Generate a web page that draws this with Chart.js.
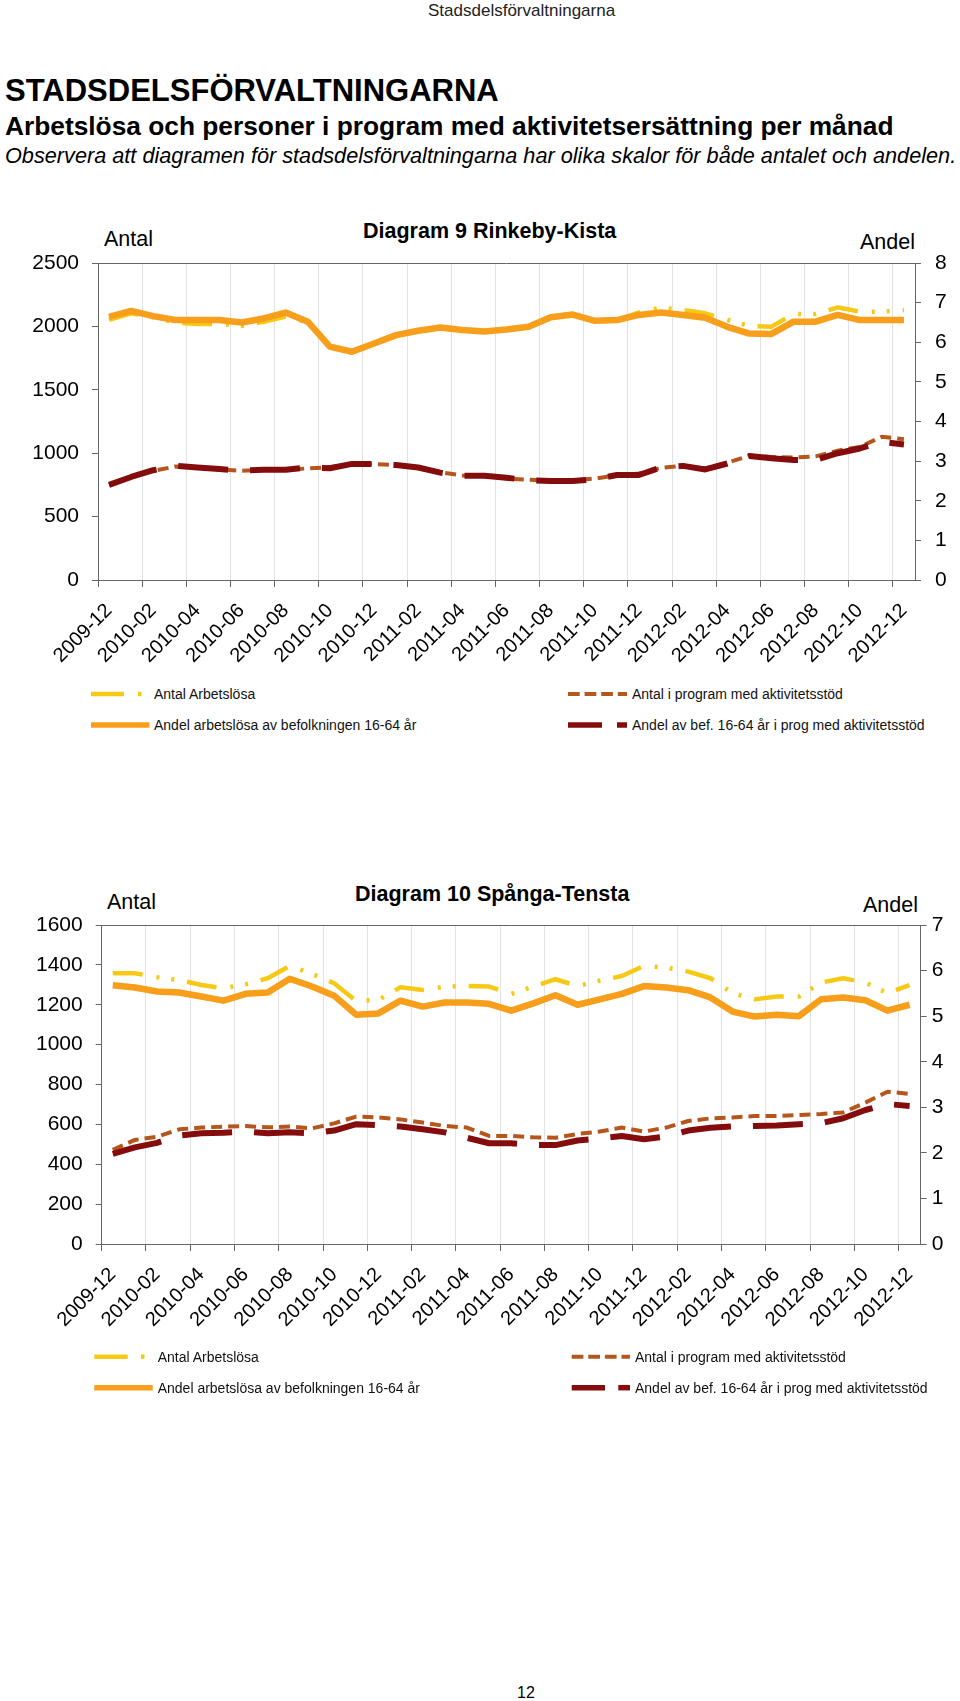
<!DOCTYPE html>
<html><head><meta charset="utf-8">
<script src="https://cdn.jsdelivr.net/npm/chart.js@4.4.1/dist/chart.umd.min.js"></script>
<style>
html,body{margin:0;padding:0;background:#fff;}
body{width:960px;height:1701px;position:relative;overflow:hidden;font-family:"Liberation Sans",Arial,Helvetica,sans-serif;color:#000;}
.t{position:absolute;white-space:nowrap;line-height:1;}
.lg{font-size:14px;color:#111;}
canvas{position:absolute;left:0;}
svg{position:absolute;left:0;}
</style></head><body>
<div class="t" style="left:428px;top:2px;font-size:17px;color:#222">Stadsdelsförvaltningarna</div>
<div class="t" style="left:5px;top:74.8px;font-size:31px;font-weight:bold">STADSDELSFÖRVALTNINGARNA</div>
<div class="t" style="left:5px;top:112.7px;font-size:26.3px;font-weight:bold">Arbetslösa och personer i program med aktivitetsersättning per månad</div>
<div class="t" style="left:5px;top:144.6px;font-size:21.7px;font-style:italic">Observera att diagramen för stadsdelsförvaltningarna har olika skalor för både antalet och andelen.</div>

<div class="t" style="left:363px;top:221px;font-size:21.5px;font-weight:bold">Diagram 9 Rinkeby-Kista</div>
<div class="t" style="left:104px;top:229px;font-size:21.5px">Antal</div>
<div class="t" style="left:860px;top:232px;font-size:21.5px">Andel</div>
<canvas id="c1" width="960" height="490" style="top:190px"></canvas>
<svg width="960" height="60" style="top:680px">
  <line x1="91" y1="14" x2="124" y2="14" stroke="#F8C914" stroke-width="4.5"/>
  <line x1="138" y1="14" x2="141.5" y2="14" stroke="#F8C914" stroke-width="4.5"/>
  <line x1="91" y1="45" x2="149.5" y2="45" stroke="#F79E1B" stroke-width="5.5"/>
  <line x1="568" y1="14" x2="627" y2="14" stroke="#B5561C" stroke-width="4" stroke-dasharray="11.7 4.9"/>
  <line x1="568" y1="45" x2="602" y2="45" stroke="#850C0C" stroke-width="5.5"/>
  <line x1="617" y1="45" x2="627" y2="45" stroke="#850C0C" stroke-width="5.5"/>
</svg>
<div class="t lg" style="left:154px;top:687px">Antal Arbetslösa</div>
<div class="t lg" style="left:154px;top:718px">Andel arbetslösa av befolkningen 16-64 år</div>
<div class="t lg" style="left:632px;top:687px">Antal i program med aktivitetsstöd</div>
<div class="t lg" style="left:632px;top:718px">Andel av bef. 16-64 år i prog med aktivitetsstöd</div>

<div class="t" style="left:355px;top:883.5px;font-size:21.5px;font-weight:bold">Diagram 10 Spånga-Tensta</div>
<div class="t" style="left:107px;top:892px;font-size:21.5px">Antal</div>
<div class="t" style="left:863px;top:894.5px;font-size:21.5px">Andel</div>
<canvas id="c2" width="960" height="490" style="top:860px"></canvas>
<svg width="960" height="60" style="top:1340px">
  <line x1="94.3" y1="16.7" x2="127.7" y2="16.7" stroke="#F8C914" stroke-width="4.5"/>
  <line x1="141" y1="16.7" x2="144.5" y2="16.7" stroke="#F8C914" stroke-width="4.5"/>
  <line x1="94.3" y1="47.7" x2="152.7" y2="47.7" stroke="#F79E1B" stroke-width="5.5"/>
  <line x1="571.7" y1="16.7" x2="630" y2="16.7" stroke="#B5561C" stroke-width="4" stroke-dasharray="11.7 4.9"/>
  <line x1="571.7" y1="47.7" x2="605" y2="47.7" stroke="#850C0C" stroke-width="5.5"/>
  <line x1="618.3" y1="47.7" x2="630" y2="47.7" stroke="#850C0C" stroke-width="5.5"/>
</svg>
<div class="t lg" style="left:157.7px;top:1350px">Antal Arbetslösa</div>
<div class="t lg" style="left:157.7px;top:1381px">Andel arbetslösa av befolkningen 16-64 år</div>
<div class="t lg" style="left:635px;top:1350px">Antal i program med aktivitetsstöd</div>
<div class="t lg" style="left:635px;top:1381px">Andel av bef. 16-64 år i prog med aktivitetsstöd</div>

<div class="t" style="left:517px;top:1684.5px;font-size:16px">12</div>

<script>
// ---- Data ----
const months = ['2009-12','2010-01','2010-02','2010-03','2010-04','2010-05','2010-06','2010-07','2010-08','2010-09','2010-10','2010-11','2010-12',
  '2011-01','2011-02','2011-03','2011-04','2011-05','2011-06','2011-07','2011-08','2011-09','2011-10','2011-11','2011-12',
  '2012-01','2012-02','2012-03','2012-04','2012-05','2012-06','2012-07','2012-08','2012-09','2012-10','2012-11','2012-12'];

// Diagram 9 Rinkeby-Kista
const rkAntalArbetslosa = [2051,2103,2072,2030,2019,2019,2003,2037,2077,2035,1840,1800,1866,1931,1966,1991,1972,1959,1975,1997,2072,2094,2044,2050,2110,2148,2129,2103,2051,2003,1998,2098,2098,2150,2116,2116,2129];
const rkAndelArbetslosa = [6.64,6.79,6.66,6.56,6.56,6.56,6.50,6.60,6.75,6.52,5.89,5.76,5.97,6.18,6.29,6.37,6.31,6.27,6.32,6.39,6.63,6.70,6.54,6.56,6.69,6.75,6.69,6.62,6.39,6.22,6.21,6.52,6.52,6.69,6.56,6.56,6.56];
const rkAntalProgram = [750,815,860,895,890,872,862,870,870,880,890,915,915,905,890,850,825,820,800,790,785,785,800,825,840,885,900,880,925,980,970,965,975,1020,1050,1130,1110];
const rkAndelProgram = [2.40,2.60,2.77,2.88,2.84,2.80,2.76,2.78,2.78,2.84,2.82,2.93,2.93,2.90,2.84,2.71,2.63,2.63,2.58,2.52,2.50,2.50,2.54,2.65,2.65,2.84,2.88,2.79,2.94,3.13,3.07,3.03,3.03,3.20,3.32,3.49,3.42];

// Diagram 10 Spånga-Tensta
const stAntalArbetslosa = [1358,1358,1338,1324,1299,1283,1303,1333,1395,1355,1308,1219,1224,1288,1274,1291,1294,1291,1254,1291,1328,1294,1321,1344,1395,1386,1366,1333,1258,1227,1241,1241,1311,1333,1311,1258,1299];
const stAndelArbetslosa = [5.68,5.63,5.54,5.52,5.43,5.34,5.49,5.52,5.82,5.65,5.45,5.03,5.06,5.34,5.21,5.30,5.30,5.27,5.12,5.28,5.46,5.25,5.37,5.49,5.66,5.63,5.57,5.41,5.10,4.99,5.03,5.00,5.37,5.41,5.35,5.12,5.25];
const stAntalProgram = [472,522,538,575,584,589,592,585,589,580,605,639,635,625,609,592,584,542,542,535,533,552,564,584,564,584,617,630,635,642,642,647,652,660,709,764,753];
const stAndelProgram = [1.98,2.12,2.22,2.38,2.43,2.44,2.47,2.43,2.45,2.43,2.49,2.63,2.61,2.58,2.52,2.45,2.33,2.21,2.21,2.17,2.17,2.27,2.32,2.37,2.30,2.36,2.49,2.55,2.58,2.59,2.60,2.63,2.65,2.76,2.94,3.07,3.03];

// ---- Styling ----
const F = "'Liberation Sans', Arial, sans-serif";
const YELLOW = '#F8C914', ORANGE = '#F79E1B', BROWN = '#B5561C', DARKRED = '#850C0C';
const AXIS = '#666666', GRID = '#e2e2e2';

const topBorder = {
  id: 'topBorder',
  beforeDatasetsDraw(chart) {
    const {ctx, chartArea: a} = chart;
    ctx.save();
    ctx.strokeStyle = AXIS; ctx.lineWidth = 1;
    ctx.beginPath(); ctx.moveTo(a.left, Math.round(a.top) + 0.5); ctx.lineTo(a.right, Math.round(a.top) + 0.5); ctx.stroke();
    ctx.restore();
  }
};

function makeChart(id, antal, andel, prog, andelProg, P) {
  return new Chart(document.getElementById(id), {
    type: 'line',
    data: {
      labels: months,
      datasets: [
        {label: 'Andel arbetslösa av befolkningen 16-64 år', data: andel, yAxisID: 'yR', borderColor: ORANGE, borderWidth: 6.5, order: 0},
        {label: 'Andel av bef. 16-64 år i prog med aktivitetsstöd', data: andelProg, yAxisID: 'yR', borderColor: DARKRED, borderWidth: 6, borderDash: [50, 22], order: 1},
        {label: 'Antal Arbetslösa', data: antal, yAxisID: 'yL', borderColor: YELLOW, borderWidth: 4.5, borderDash: [30, 14, 3, 12, 3, 13], order: 2},
        {label: 'Antal i program med aktivitetsstöd', data: prog, yAxisID: 'yL', borderColor: BROWN, borderWidth: 4, borderDash: [11, 6], order: 3}
      ]
    },
    options: {
      responsive: false, animation: false, devicePixelRatio: 1,
      layout: {padding: {top: P.top, left: 0, right: 0, bottom: 0}},
      plugins: {legend: {display: false}, tooltip: {enabled: false}},
      elements: {line: {tension: 0, borderJoinStyle: 'round', borderCapStyle: 'butt', fill: false}, point: {radius: 0}},
      scales: {
        x: {
          type: 'category', offset: true,
          grid: {offset: true, lineWidth: 1, tickLength: 7,
            color: c => (c.index % 2 === 0 ? GRID : 'rgba(0,0,0,0)'),
            tickColor: c => (c.index % 2 === 0 ? AXIS : 'rgba(0,0,0,0)')},
          border: {color: AXIS, width: 1},
          ticks: {autoSkip: false, maxRotation: 45, minRotation: 45, padding: P.xpad, color: '#000', font: {size: 20, family: F},
            callback: (v, i) => (i % 2 === 0 ? months[i] : '')},
          afterFit: s => { s.height = P.xh; }
        },
        yL: {
          position: 'left', min: 0, max: P.lmax,
          ticks: {stepSize: P.lstep, padding: P.lpad, color: '#000', font: {size: 21, family: F}, callback: v => String(v)},
          grid: {drawOnChartArea: false, tickLength: 6, tickColor: AXIS},
          border: {color: AXIS, width: 1},
          afterFit: s => { s.width = P.lw; }
        },
        yR: {
          position: 'right', min: 0, max: P.rmax,
          ticks: {stepSize: 1, padding: P.rpad, color: '#000', font: {size: 21, family: F}, callback: v => String(v)},
          grid: {drawOnChartArea: false, tickLength: 6, tickColor: AXIS},
          border: {color: AXIS, width: 1},
          afterFit: s => { s.width = P.rw; }
        }
      }
    },
    plugins: [topBorder]
  });
}

makeChart('c1', rkAntalArbetslosa, rkAndelArbetslosa, rkAntalProgram, rkAndelProgram,
  {top: 73, lw: 98, rw: 45, xh: 100, xpad: 12, lmax: 2500, lstep: 500, rmax: 8, lpad: 13, rpad: 14});
makeChart('c2', stAntalArbetslosa, stAndelArbetslosa, stAntalProgram, stAndelProgram,
  {top: 65, lw: 101.7, rw: 39.3, xh: 106, xpad: 12, lmax: 1600, lstep: 200, rmax: 7, lpad: 13, rpad: 5});
</script>
</body></html>
